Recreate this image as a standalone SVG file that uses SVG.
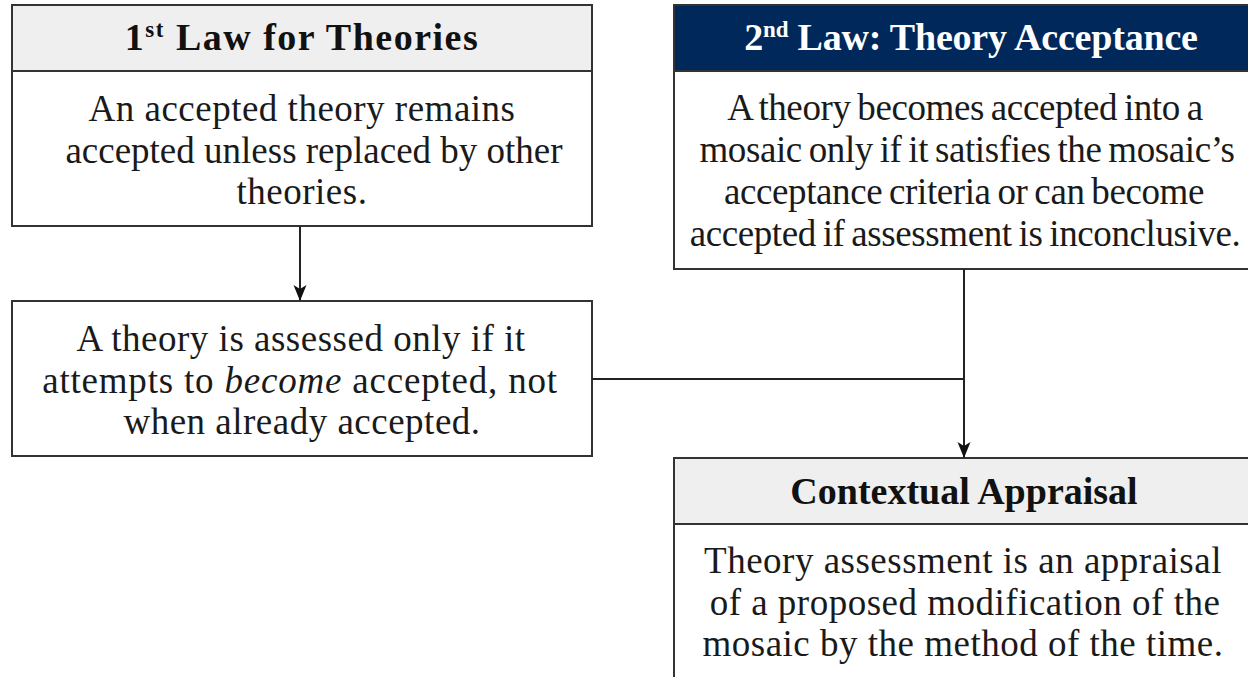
<svg xmlns="http://www.w3.org/2000/svg" width="1248" height="677" viewBox="0 0 1248 677">
  <style>
    .box { fill: #ffffff; stroke: #333333; stroke-width: 2; }
    .hdr { fill: #efefef; stroke: #333333; stroke-width: 2; }
    .hdr-dark { fill: #00285a; stroke: #333333; stroke-width: 2; }
    .title { font-family: "Liberation Serif", "DejaVu Serif", serif; font-size: 38px; font-weight: bold; fill: #111111; text-anchor: middle; }
    .t1 { letter-spacing: 1.5px; }
    .title-w { fill: #ffffff; letter-spacing: -0.2px; }
    .body { font-family: "Liberation Serif", "DejaVu Serif", serif; font-size: 37px; fill: #1a1a1a; text-anchor: middle; letter-spacing: 0.5px; }
    .cond { letter-spacing: -0.4px; word-spacing: -2px; }
    .conn { fill: none; stroke: #222222; stroke-width: 2; }
  </style>
  <defs>
    <marker id="arrow" viewBox="0 0 16 16" refX="15" refY="8" markerWidth="16" markerHeight="16" markerUnits="userSpaceOnUse" orient="auto">
      <path d="M0,1.5 L16,8 L0,14.5 L4,8 Z" fill="#111111"/>
    </marker>
  </defs>

  <g id="law1">
    <rect class="box" x="12" y="5" width="580" height="221"/>
    <rect class="hdr" x="12" y="5" width="580" height="66"/>
    <text class="title t1" x="302" y="50">1<tspan font-size="23" dy="-13">st</tspan><tspan dy="13"> Law for Theories</tspan></text>
    <text class="body" x="302" y="121">An accepted theory remains</text>
    <text class="body" x="314" y="163" style="letter-spacing:0px">accepted unless replaced by other</text>
    <text class="body" x="302" y="204">theories.</text>
  </g>

  <g id="law2">
    <rect class="box" x="674" y="5" width="584" height="264"/>
    <rect class="hdr-dark" x="674" y="5" width="584" height="66"/>
    <text class="title title-w" x="971" y="50">2<tspan font-size="23" dy="-13">nd</tspan><tspan dy="13"> Law: Theory Acceptance</tspan></text>
    <text class="body cond" x="965" y="120">A theory becomes accepted into a</text>
    <text class="body cond" x="967" y="162">mosaic only if it satisfies the mosaic’s</text>
    <text class="body cond" x="964" y="204">acceptance criteria or can become</text>
    <text class="body cond" x="965" y="246">accepted if assessment is inconclusive.</text>
  </g>

  <g id="assessed">
    <rect class="box" x="12" y="301" width="580" height="155"/>
    <text class="body" x="301" y="351">A theory is assessed only if it</text>
    <text class="body" x="300" y="393" style="letter-spacing:0.8px">attempts to <tspan font-style="italic">become</tspan> accepted, not</text>
    <text class="body" x="302" y="434">when already accepted.</text>
  </g>

  <g id="appraisal">
    <rect class="box" x="674" y="458" width="584" height="240"/>
    <rect class="hdr" x="674" y="458" width="584" height="66"/>
    <text class="title" x="964" y="504">Contextual Appraisal</text>
    <text class="body" x="963" y="573">Theory assessment is an appraisal</text>
    <text class="body" x="965" y="615">of a proposed modification of the</text>
    <text class="body" x="963" y="656">mosaic by the method of the time.</text>
  </g>

  <g id="connectors">
    <path class="conn" d="M300,226 V300" marker-end="url(#arrow)"/>
    <path class="conn" d="M592,379 H964"/>
    <path class="conn" d="M964,269 V457" marker-end="url(#arrow)"/>
  </g>
</svg>
